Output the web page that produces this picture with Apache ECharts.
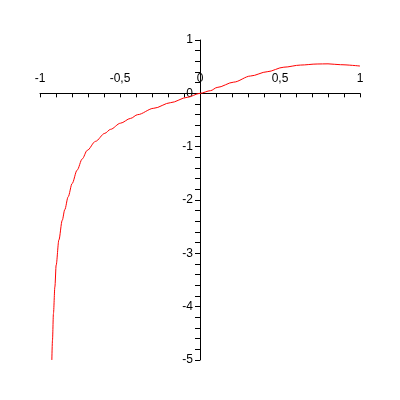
<!DOCTYPE html>
<html>
<head>
<meta charset="utf-8">
<script src="https://cdn.jsdelivr.net/npm/echarts@6/dist/echarts.min.js"></script>
<style>html,body{margin:0;padding:0;background:#fff}#c{width:400px;height:400px}</style>
</head>
<body>
<div id="c"></div>
<script>
var xs = [-0.926,-0.922,-0.916,-0.907,-0.899,-0.882,-0.861,-0.845,-0.824,-0.799,-0.768,-0.736,-0.705,-0.653,-0.595,-0.559,-0.497,-0.434,-0.39,-0.289,-0.184,-0.08,0,0.066,0.107,0.211,0.316,0.42,0.524,0.628,0.732,0.80,0.878,1.0];
var ys = [-5.0,-4.63,-4.13,-3.63,-3.22,-2.75,-2.38,-2.18,-1.94,-1.69,-1.44,-1.23,-1.07,-0.90,-0.75,-0.675,-0.56,-0.47,-0.40,-0.28,-0.175,-0.075,0,0.05,0.11,0.21,0.325,0.405,0.49,0.53,0.55,0.553,0.537,0.512];
var xTicks = [-1, -0.5, 0, 0.5, 1];
var yTicks = [-5, -4, -3, -2, -1, 0, 1];

var fmt = function (v) { return String(v).replace('.', ','); };
var labelStyle = {color: '#000', fontFamily: 'Liberation Sans', fontSize: 12, formatter: fmt, showMinLabel: true, showMaxLabel: true};
var GL = 40, GT = 40;
var chart = echarts.init(document.getElementById('c'), null, {renderer: 'canvas'});
function xAxisBase() {
  return {type: 'value', min: xTicks[0], max: xTicks[xTicks.length - 1], interval: 0.5, splitLine: {show: false}};
}
function yAxisBase() {
  return {type: 'value', min: yTicks[0], max: yTicks[yTicks.length - 1], interval: 1, splitLine: {show: false}};
}
var x0 = xAxisBase(), x1 = xAxisBase(), y0 = yAxisBase(), y1 = yAxisBase();
Object.assign(x0, {
  position: 'top',
  axisLine: {onZero: true, lineStyle: {color: '#000', width: 1}},
  axisTick: {show: true, inside: true, length: 4, lineStyle: {color: '#000'}},
  minorTick: {show: true, splitNumber: 5, length: 4, lineStyle: {color: '#000'}},
  axisLabel: {show: false}
});
Object.assign(x1, {
  position: 'top', offset: 0,
  axisLine: {show: false, onZero: false},
  axisTick: {show: false},
  axisLabel: Object.assign({show: true, margin: 9}, labelStyle)
});
Object.assign(y0, {
  position: 'left',
  axisLine: {onZero: true, lineStyle: {color: '#000', width: 1}},
  axisTick: {show: true, inside: false, length: 5, lineStyle: {color: '#000'}},
  minorTick: {show: true, splitNumber: 5, length: 5, lineStyle: {color: '#000'}},
  axisLabel: {show: false}
});
Object.assign(y1, {
  position: 'left', offset: 0,
  axisLine: {show: false, onZero: false},
  axisTick: {show: false},
  axisLabel: Object.assign({show: true, margin: 7}, labelStyle)
});
chart.setOption({
  animation: false,
  backgroundColor: '#ffffff',
  grid: {left: GL, right: 40, top: GT, bottom: 40, containLabel: false},
  xAxis: [x0, x1],
  yAxis: [y0, y1],
  series: [{
    type: 'line', showSymbol: false, smooth: 0.3, smoothMonotone: 'x', xAxisIndex: 0, yAxisIndex: 0,
    lineStyle: {color: '#ff0000', width: 1},
    data: xs.map(function (x, i) { return [x, ys[i]]; })
  }]
});
var origin = chart.convertToPixel({xAxisIndex: 0, yAxisIndex: 0}, [0, 0]);
chart.setOption({
  xAxis: [{}, {offset: -(origin[1] - GT)}],
  yAxis: [{}, {offset: -(origin[0] - GL)}]
});
</script>
</body>
</html>
